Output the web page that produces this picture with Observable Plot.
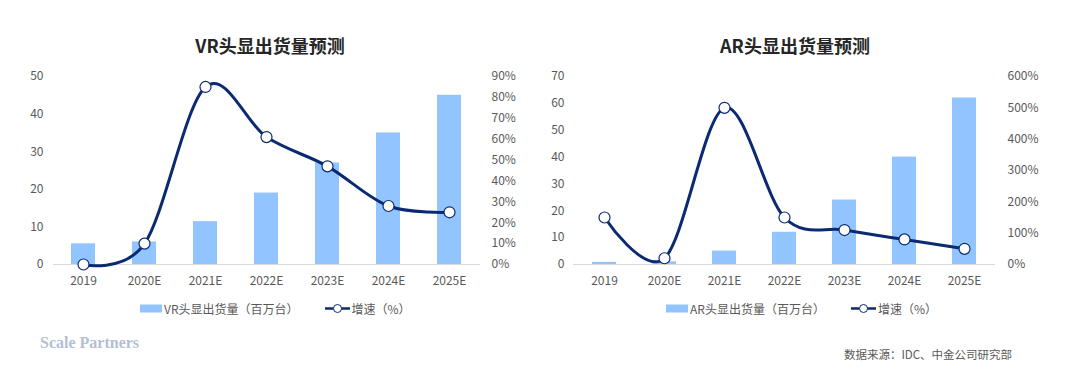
<!DOCTYPE html>
<html>
<head>
<meta charset="utf-8">
<script src="https://cdn.jsdelivr.net/npm/d3@7"></script>
<script src="https://cdn.jsdelivr.net/npm/@observablehq/plot@0.6"></script>
<style>
  html, body { margin: 0; padding: 0; background: #fff; }
  #root { position: relative; width: 1080px; height: 388px; overflow: hidden; background: #fff;
          font-family: "Noto Sans CJK SC", "Noto Sans", sans-serif; }
  .abs { position: absolute; }
  .title { font-size: 18px; font-weight: bold; color: #262626; white-space: nowrap; transform: translate(-50%, -50%); }
  .legend { font-size: 12px; color: #595959; white-space: nowrap; display: flex; align-items: center; transform: translateY(-50%); }
  .sw { display: inline-block; width: 22px; height: 8px; background: #92C5FF; margin-right: 2px; }
  .wm { font-family: "Liberation Serif", serif; font-weight: bold; font-size: 16px; color: #b3bfd3; transform: translateY(-50%); white-space: nowrap; }
  .src { font-size: 11.5px; color: #595959; transform: translateY(-50%); white-space: nowrap; }
</style>
</head>
<body>
<div id="root"></div>
<script>
const years = ["2019", "2020E", "2021E", "2022E", "2023E", "2024E", "2025E"];
const vrShipments = [5.5, 6, 11.4, 19, 27, 35, 45];
const vrGrowth = [0, 10, 85, 61, 47, 28, 25];
const arShipments = [0.8, 1, 5, 12, 24, 40, 62];
const arGrowth = [150, 20, 500, 150, 110, 80, 50];

const vrTitle = "VR头显出货量预测";
const arTitle = "AR头显出货量预测";
const vrBarLabel = "VR头显出货量（百万台）";
const arBarLabel = "AR头显出货量（百万台）";
const growthLabel = "增速（%）";
const sourceText = "数据来源：IDC、中金公司研究部";
const watermark = "Scale Partners";

const BAR = "#92C5FF", LINE = "#0B2A72";
const FONT = "'Noto Sans CJK SC', 'Noto Sans', sans-serif";

function chart({ship, growth, yMax, yStep, gMax, gStep, ml, mr, lpad, rpad}) {
  const k = yMax / gMax;
  const data = years.map((y, i) => ({year: y, v: ship[i], g: growth[i]}));
  return Plot.plot({
    width: 540, height: 290,
    marginLeft: ml, marginRight: mr, marginTop: 76, marginBottom: 26,
    style: {fontFamily: FONT, fontSize: "12px", color: "#595959", background: "transparent"},
    x: {domain: years, paddingInner: 0.6, paddingOuter: 0.3, label: null},
    y: {domain: [0, yMax], label: null},
    marks: [
      Plot.barY(data, {x: "year", y: "v", fill: BAR}),
      Plot.ruleY([0], {stroke: "#d9d9d9", strokeWidth: 1}),
      Plot.axisX({tickSize: 0, tickPadding: 12, label: null}),
      Plot.axisY(d3.range(0, yMax + 0.001, yStep), {anchor: "left", tickSize: 0, tickPadding: lpad, label: null}),
      Plot.axisY(d3.range(0, gMax + 0.001, gStep).map(g => g * k), {
        anchor: "right", tickSize: 0, tickPadding: rpad, label: null,
        tickFormat: d => Math.round(d / k) + "%"
      }),
      Plot.line(data, {x: "year", y: d => d.g * k, stroke: LINE, strokeWidth: 3, curve: "cardinal", tension: 0}),
      Plot.dot(data, {x: "year", y: d => d.g * k, r: 5.5, fill: "white", stroke: LINE, strokeWidth: 1.2})
    ]
  });
}

const root = document.getElementById("root");
function place(el, x, y) { el.classList.add("abs"); el.style.left = x + "px"; el.style.top = y + "px"; root.appendChild(el); return el; }
function div(cls, text) { const d = document.createElement("div"); d.className = cls; if (text != null) d.textContent = text; return d; }

const vr = chart({ship: vrShipments, growth: vrGrowth, yMax: 50, yStep: 10, gMax: 90, gStep: 10, ml: 53, mr: 60, lpad: 10, rpad: 11});
place(vr, 0, 0);
const ar = chart({ship: arShipments, growth: arGrowth, yMax: 70, yStep: 10, gMax: 600, gStep: 100, ml: 33, mr: 85, lpad: 9, rpad: 12});
place(ar, 540, 0);

place(div("title", vrTitle), 270, 45);
place(div("title", arTitle), 795, 45);

function legend(x, label) {
  const d = div("legend");
  const sw = div("sw"); d.appendChild(sw);
  const t1 = document.createElement("span"); t1.textContent = label; d.appendChild(t1);
  const svgNS = "http://www.w3.org/2000/svg";
  const s = document.createElementNS(svgNS, "svg");
  s.setAttribute("width", 26); s.setAttribute("height", 12);
  s.style.marginLeft = "26px"; s.style.marginRight = "1px";
  s.innerHTML = `<line x1="0" x2="25" y1="6" y2="6" stroke="${LINE}" stroke-width="2.5"/><circle cx="12.5" cy="6" r="4" fill="white" stroke="${LINE}" stroke-width="1"/>`;
  d.appendChild(s);
  const t2 = document.createElement("span"); t2.textContent = growthLabel; d.appendChild(t2);
  place(d, x, 308);
}
legend(140, vrBarLabel);
legend(666, arBarLabel);

place(div("wm", watermark), 40, 343);
place(div("src", sourceText), 844, 354);
</script>
</body>
</html>
